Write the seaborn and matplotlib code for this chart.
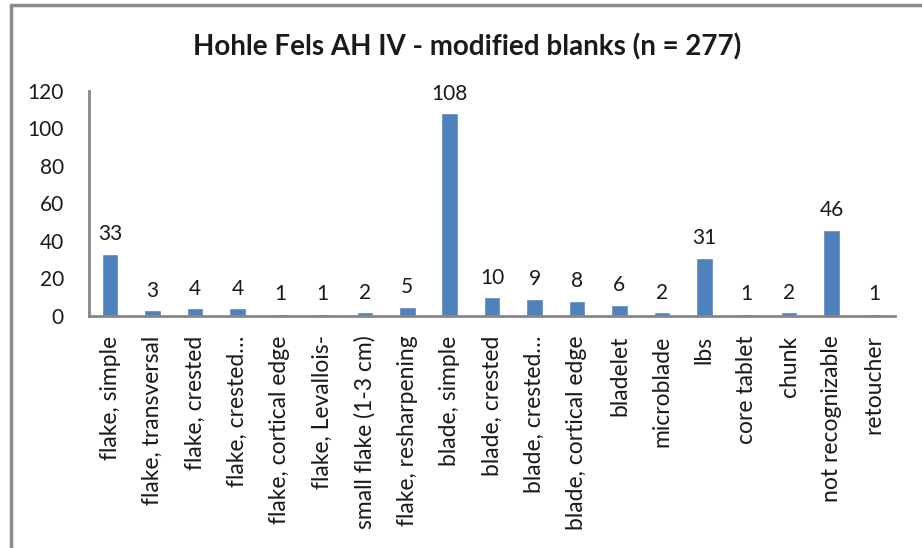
import numpy as np
import pandas as pd
import matplotlib
matplotlib.use('Agg')
import matplotlib.pyplot as plt
import seaborn as sns
from matplotlib.lines import Line2D

# Data
categories = ['flake, simple', 'flake, transversal', 'flake, crested',
              'flake, crested\u2026', 'flake, cortical edge', 'flake, Levallois-',
              'small flake (1-3 cm)', 'flake, resharpening', 'blade, simple',
              'blade, crested', 'blade, crested\u2026', 'blade, cortical edge',
              'bladelet', 'microblade', 'lbs', 'core tablet', 'chunk',
              'not recognizable', 'retoucher']
counts = [33, 3, 4, 4, 1, 1, 2, 5, 108, 10, 9, 8, 6, 2, 31, 1, 2, 46, 1]
y_ticks = [0, 20, 40, 60, 80, 100, 120]
title = 'Hohle Fels AH IV - modified blanks (n = 277)'

sns.set_theme(style='white')
plt.rcParams['font.family'] = ['Lato', 'DejaVu Sans']

df = pd.DataFrame({'category': categories, 'count': counts})

fig = plt.figure(figsize=(9.22, 5.48), dpi=100)
ax = fig.add_axes([0.0965, 0.4234, 0.8745, 0.4106])

sns.barplot(data=df, x='category', y='count', color='#4F81BD',
            saturation=1, width=0.39, ax=ax)

ax.bar_label(ax.containers[0], padding=7, fontsize=15, color='#1a1a1a')

ax.set_ylim(0, 120)
ax.set_xlim(-0.5, len(categories) - 0.5)
ax.set_yticks(y_ticks)
ax.set_yticklabels([str(v) for v in y_ticks], fontsize=15, color='#1a1a1a')

# category labels at centres, tick marks between categories
ax.set_xticks(np.arange(-0.5, len(categories)), minor=False)
ax.set_xticklabels([])
ax.set_xticks(np.arange(len(categories)), minor=True)
ax.set_xticklabels(categories, minor=True, rotation=90, fontsize=16.5,
                   color='#1a1a1a')
ax.tick_params(axis='x', which='minor', length=0, pad=14)
ax.tick_params(axis='x', which='major', length=7, width=2, color='#868686',
               direction='out')
ax.tick_params(axis='y', length=6, width=2, color='#868686', direction='out',
               pad=12)
ax.set_xlabel('')
ax.set_ylabel('')

for side in ['top', 'right']:
    ax.spines[side].set_visible(False)
for side in ['left', 'bottom']:
    ax.spines[side].set_color('#868686')
    ax.spines[side].set_linewidth(2)
    ax.spines[side].set_visible(True)

fig.text(0.507, 0.914, title, ha='center', va='center', fontsize=20,
         fontweight='bold', color='#1a1a1a')

# chart area border (top and left edges visible)
fig.add_artist(Line2D([0.012, 1.0], [0.991, 0.991], color='#8c8c8c', lw=2.5,
                      transform=fig.transFigure))
fig.add_artist(Line2D([0.012, 0.012], [0.0, 0.991], color='#8c8c8c', lw=2.5,
                      transform=fig.transFigure))

fig.savefig('out.png', dpi=100)
